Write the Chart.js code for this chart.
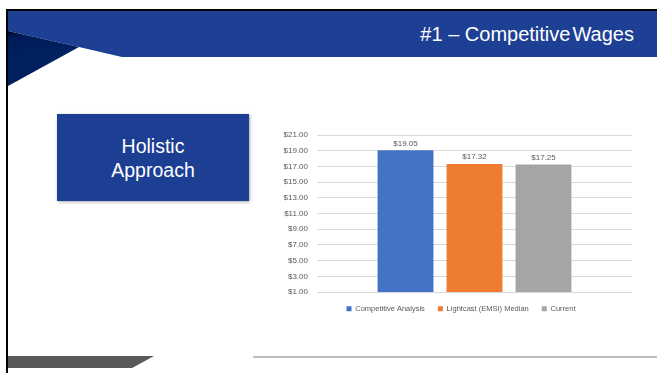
<!DOCTYPE html>
<html>
<head>
<meta charset="utf-8">
<script src="https://cdn.jsdelivr.net/npm/chart.js@4.4.1/dist/chart.umd.min.js"></script>
<style>
  html, body { margin: 0; padding: 0; background: #fff; }
  body { width: 657px; height: 373px; position: relative; overflow: hidden; font-family: "Liberation Sans", Arial, sans-serif; }
  #frameTop { position: absolute; left: 6px; top: 9px; width: 651px; height: 2px; background: #000; }
  #frameLeft { position: absolute; left: 6px; top: 9px; width: 2px; height: 364px; background: #000; }
  #deco { position: absolute; left: 0; top: 0; }
  #title { position: absolute; right: 23px; top: 23px; color: #fff; font-size: 20px; white-space: nowrap; }
  #title .tight { word-spacing: -3.5px; }
  #box { position: absolute; left: 57px; top: 114px; width: 192px; height: 87px; background: #1c3e93;
         box-shadow: 1px 1px 3px rgba(0,0,0,0.35); color: #fff; font-size: 19.5px; line-height: 24px;
         text-align: center; display: flex; align-items: center; justify-content: center; }
  #chartWrap { position: absolute; left: 270px; top: 124.7px; width: 370px; height: 200px; }
</style>
</head>
<body>
<svg id="deco" width="657" height="373">
  <defs>
    <linearGradient id="navy" x1="0" y1="0" x2="0.12" y2="0.5">
      <stop offset="0" stop-color="#000814"/>
      <stop offset="0.25" stop-color="#001b57"/>
      <stop offset="1" stop-color="#002060"/>
    </linearGradient>
  </defs>
  <!-- header band with slanted lower-left edge -->
  <polygon points="8,11 657,11 657,57 122,57 79,47 8,31" fill="#1d3f94"/>
  <polygon points="8,31 79,47 8,86" fill="url(#navy)"/>
  <!-- footer bar and rule -->
  <polygon points="8,356 154,356 132,368 8,368" fill="#595959"/>
  <rect x="253" y="356.5" width="404" height="1" fill="#7f7f7f"/>
</svg>
<div id="frameTop"></div>
<div id="frameLeft"></div>
<div id="title">#1 – Competitive<span class="tight"> </span>Wages</div>
<div id="box">Holistic<br>Approach</div>
<div id="chartWrap"><canvas id="wageChart"></canvas></div>

<script>
// series names, hourly wages and bar colours
const seriesNames = ['Competitive Analysis', 'Lightcast (EMSI) Median', 'Current'];
const wageValues = [19.05, 17.32, 17.25];
const seriesColors = ['#4472c4', '#ed7d31', '#a5a5a5'];
const categories = [''];

const yMin = 1;
const yMax = 21;
const yStep = 2;

const textGray = '#595959';
const chartFont = '"Liberation Sans", Arial, sans-serif';

// draws "$xx.xx" above each bar
const valueLabels = {
  id: 'valueLabels',
  afterDatasetsDraw(chart) {
    const ctx = chart.ctx;
    ctx.save();
    ctx.font = '8px ' + chartFont;
    ctx.fillStyle = textGray;
    ctx.textAlign = 'center';
    ctx.textBaseline = 'bottom';
    chart.data.datasets.forEach((ds, i) => {
      chart.getDatasetMeta(i).data.forEach((bar, j) => {
        ctx.fillText('$' + ds.data[j].toFixed(2), bar.x, bar.y - 3);
      });
    });
    ctx.restore();
  }
};

// centre the legend under the plot area rather than the whole canvas
const legendShift = {
  id: 'legendShift',
  afterLayout(chart) {
    const dx = 10;
    chart.legend.left += dx;
    chart.legend.right += dx;
  }
};

const datasets = seriesNames.map((name, i) => ({
  label: name,
  data: [wageValues[i]],
  backgroundColor: seriesColors[i],
  borderWidth: 0,
  barPercentage: 0.81,
  categoryPercentage: 0.657
}));

new Chart(document.getElementById('wageChart'), {
  type: 'bar',
  data: { labels: categories, datasets: datasets },
  plugins: [valueLabels, legendShift],
  options: {
    responsive: true,
    maintainAspectRatio: false,
    animation: false,
    layout: { padding: { top: 10, right: 8, bottom: 2.5, left: 0 } },
    plugins: {
      tooltip: { enabled: false },
      legend: {
        position: 'bottom',
        labels: {
          boxWidth: 5,
          boxHeight: 5,
          padding: 13,
          color: textGray,
          font: { family: chartFont, size: 7.5 }
        }
      }
    },
    scales: {
      x: { display: false },
      y: {
        min: yMin,
        max: yMax,
        border: { display: false },
        grid: { color: '#d9d9d9', drawTicks: false },
        afterFit(scale) {
          scale.width = 47;
          scale.paddingTop = 0;
          scale.paddingBottom = 0;
        },
        ticks: {
          stepSize: yStep,
          padding: 9,
          color: textGray,
          font: { family: chartFont, size: 8 },
          callback: v => '$' + v.toFixed(2)
        }
      }
    }
  }
});
</script>
</body>
</html>
